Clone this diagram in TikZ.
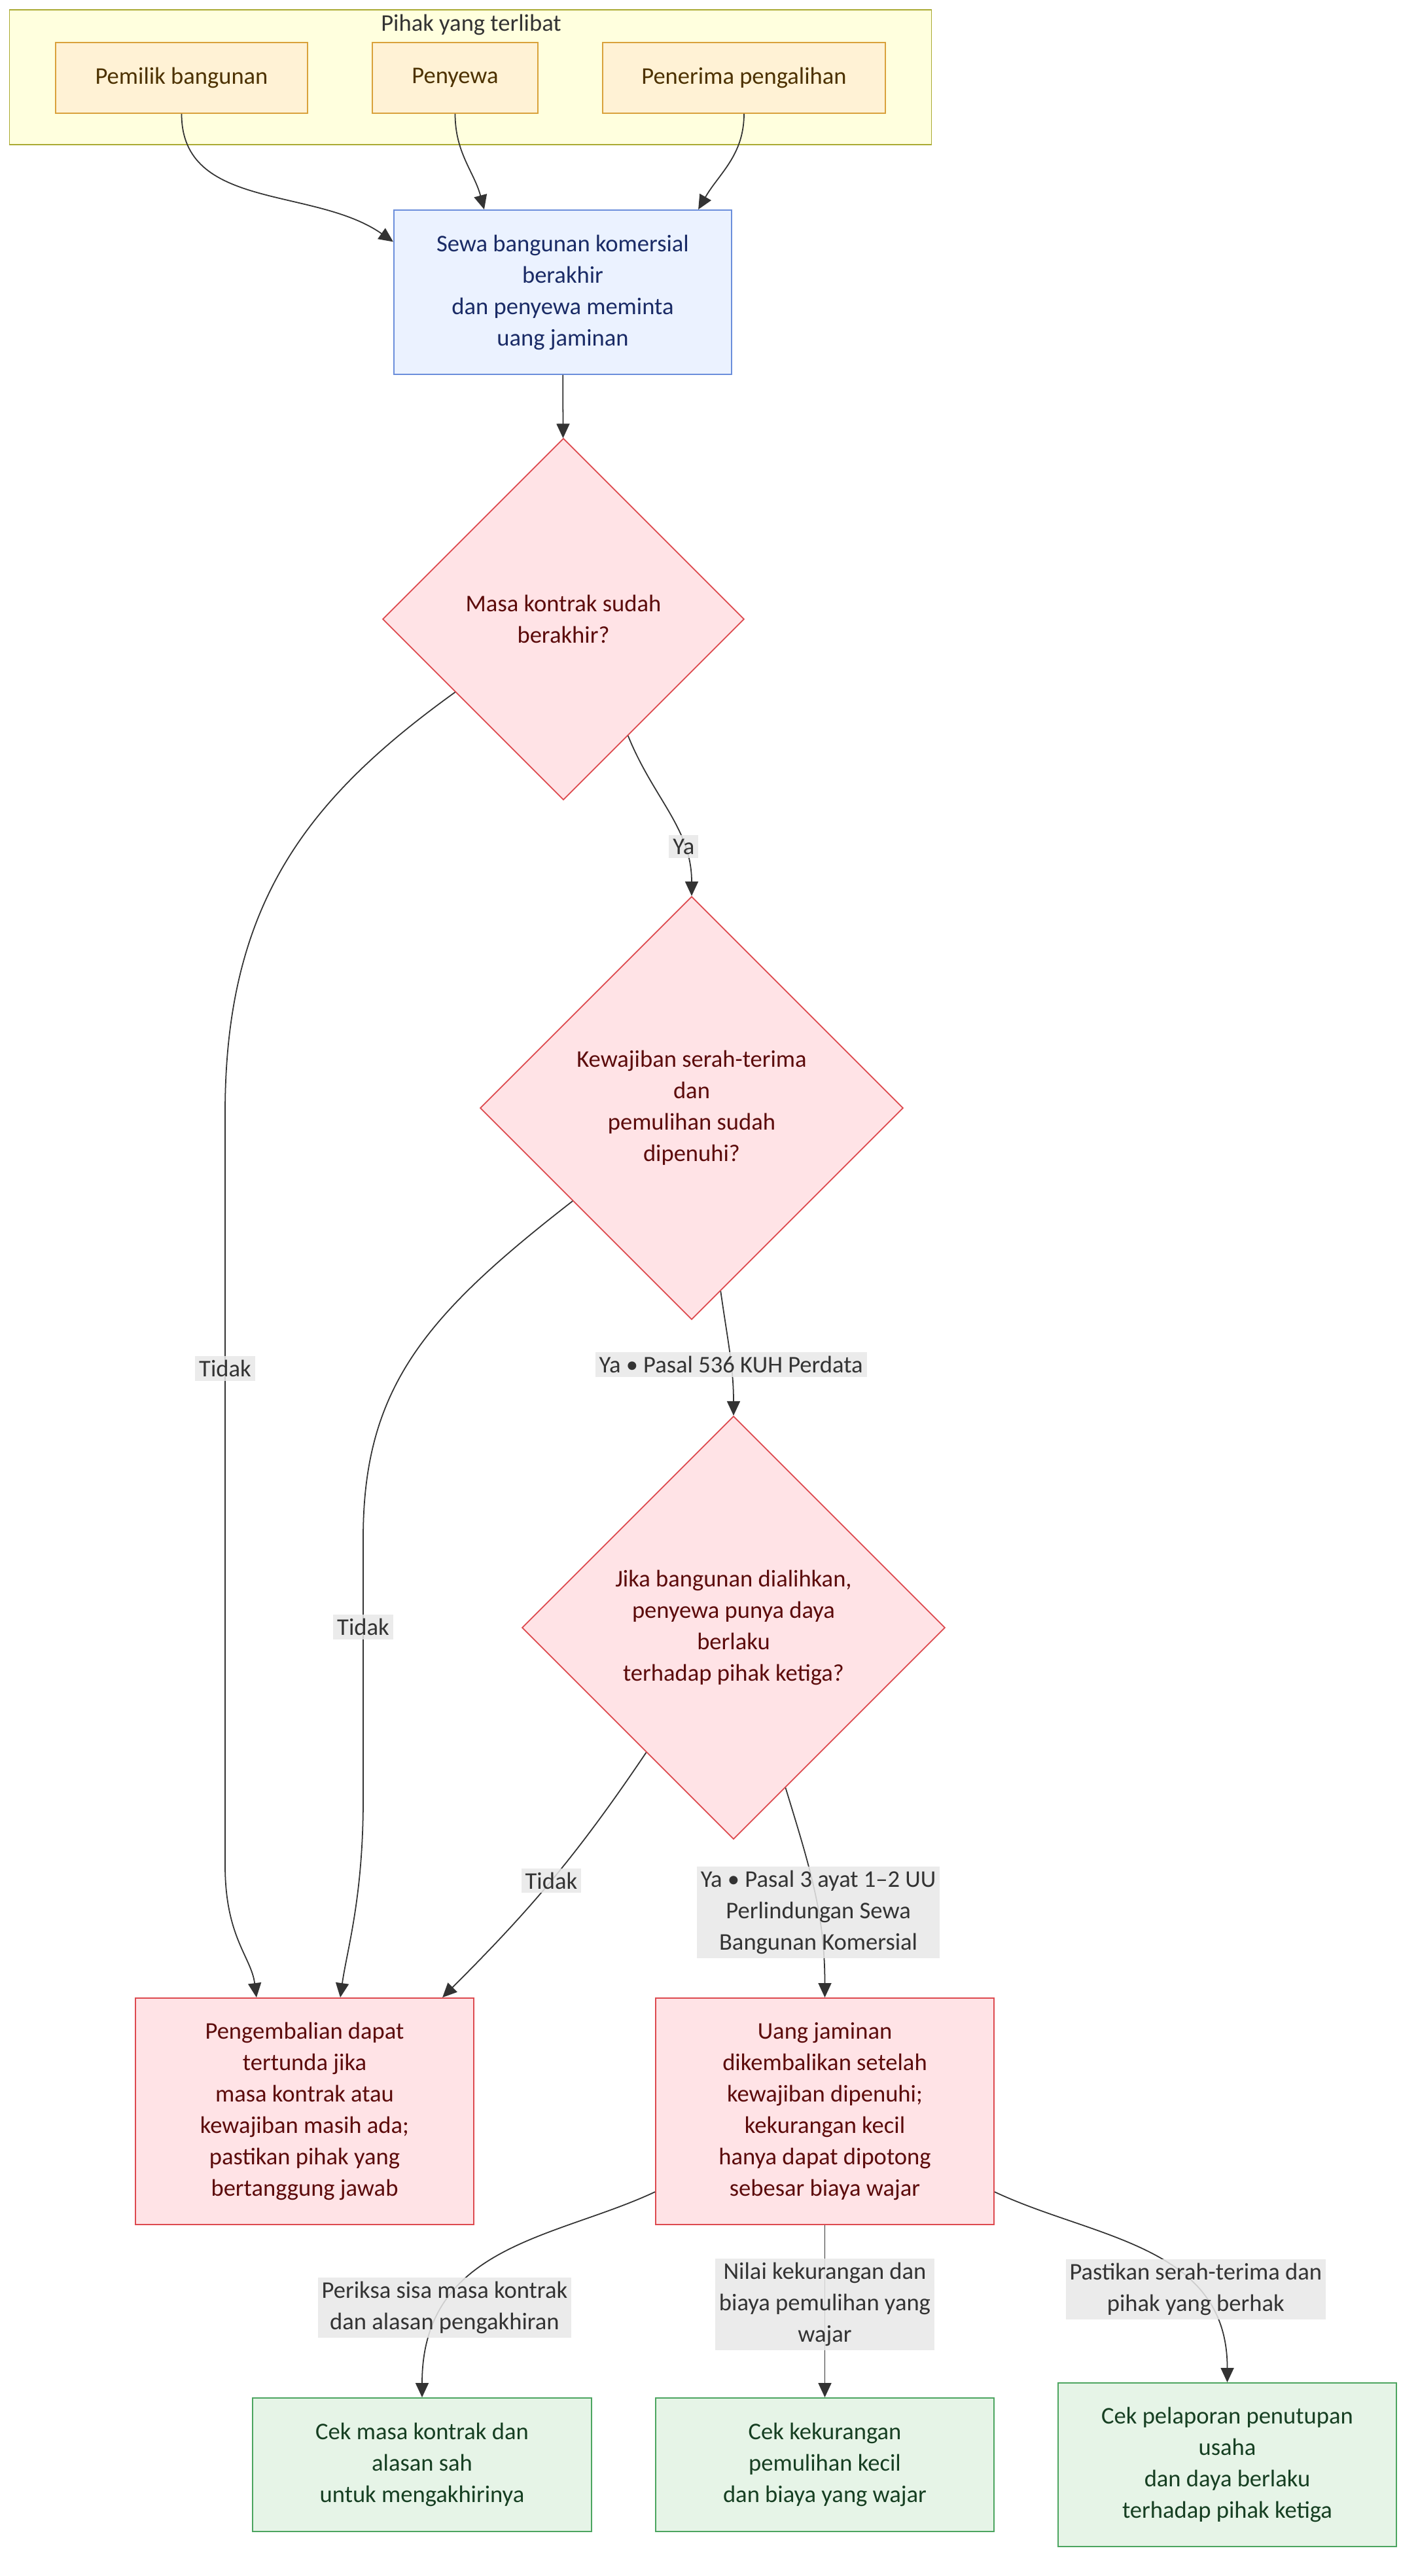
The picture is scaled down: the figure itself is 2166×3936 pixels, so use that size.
\documentclass[tikz,border=0pt]{standalone}
\usepackage{fontspec}
\setmainfont{Carlito}
\usepackage{tikz}
\usetikzlibrary{arrows.meta,positioning,shapes.geometric}
\definecolor{grpfill}{HTML}{FFFFDE}
\definecolor{grpline}{HTML}{AAAA33}
\definecolor{pfill}{HTML}{FFF2D5}
\definecolor{pline}{HTML}{D9A13B}
\definecolor{ptext}{HTML}{4D3200}
\definecolor{sfill}{HTML}{EBF2FF}
\definecolor{sline}{HTML}{6B8EDB}
\definecolor{stext}{HTML}{1A2B66}
\definecolor{rfill}{HTML}{FFE3E6}
\definecolor{rline}{HTML}{DD4A4F}
\definecolor{rtext}{HTML}{5C0B0B}
\definecolor{gfill}{HTML}{E6F4E7}
\definecolor{gline}{HTML}{4CA560}
\definecolor{gtext}{HTML}{163F22}
\definecolor{lblfill}{HTML}{E8E8E8}
\definecolor{edge}{HTML}{333333}
\tikzset{%
  box/.style={draw,align=center,inner sep=0pt,line width=0.5pt},
  arrow/.style={-{Triangle[length=2.2mm,width=2mm]},line width=0.5pt,draw=edge},
  lbl/.style={fill=lblfill,fill opacity=0.85,text opacity=1,text=edge,align=center,inner xsep=0.6mm,inner ysep=0.6mm}
}

\begin{document}
\begin{tikzpicture}[
    x=0.01cm, y=-0.01cm,
    font=\fontsize{10.4}{13.66}\selectfont,
    party/.style={box,fill=pfill,draw=pline,text=ptext,minimum height=1.08cm},
    start/.style={box,fill=sfill,draw=sline,text=stext,minimum width=5.16cm,minimum height=2.51cm},
    ask/.style={diamond,aspect=1,box,fill=rfill,draw=rline,text=rtext},
    late/.style={box,fill=rfill,draw=rline,text=rtext,minimum width=5.17cm,minimum height=3.46cm},
    check/.style={box,fill=gfill,draw=gline,text=gtext,minimum width=5.17cm,minimum height=2.04cm}
]
\useasboundingbox[fill=white] (0,0) rectangle (2166,3936);

% Group of parties
\node[draw=grpline,fill=grpfill,line width=0.5pt,minimum width=14.08cm,minimum height=2.06cm,inner sep=0pt] (grp) at (719,118) {};
\node[text=edge] (ttl) at (720,38) {Pihak yang terlibat};
\node[party,minimum width=3.85cm] (own) at (277.5,119) {Pemilik bangunan};
\node[party,minimum width=2.53cm] (ten) at (695.5,119) {Penyewa};
\node[party,minimum width=4.32cm] (rec) at (1137,119) {Penerima pengalihan};

% Main flow
\node[start] (lease) at (860,446.5) {Sewa bangunan komersial\\berakhir\\dan penyewa meminta\\uang jaminan};
\node[ask,minimum width=5.52cm,minimum height=5.52cm] (q1) at (861,946) {Masa kontrak sudah\\berakhir?};
\node[ask,minimum width=6.46cm,minimum height=6.46cm] (q2) at (1057,1693) {Kewajiban serah-terima\\dan\\pemulihan sudah\\dipenuhi?};
\node[ask,minimum width=6.46cm,minimum height=6.46cm] (q3) at (1121,2487) {Jika bangunan dialihkan,\\penyewa punya daya\\berlaku\\terhadap pihak ketiga?};

% Outcomes
\node[late] (hold) at (465.5,3226) {Pengembalian dapat\\tertunda jika\\masa kontrak atau\\kewajiban masih ada;\\pastikan pihak yang\\bertanggung jawab};
\node[late] (refund) at (1260.5,3226) {Uang jaminan\\dikembalikan setelah\\kewajiban dipenuhi;\\kekurangan kecil\\hanya dapat dipotong\\sebesar biaya wajar};

% Checks
\node[check] (chk1) at (645,3766) {Cek masa kontrak dan\\alasan sah\\untuk mengakhirinya};
\node[check] (chk2) at (1260.5,3766) {Cek kekurangan\\pemulihan kecil\\dan biaya yang wajar};
\node[check,minimum height=2.5cm] (chk3) at (1875.5,3766) {Cek pelaporan penutupan\\usaha\\dan daya berlaku\\terhadap pihak ketiga};

% Arrows
\draw[arrow] (own.south) to[out=-90,in=145] ([yshift=0.77cm]lease.west);
\draw[arrow] (ten.south) to[out=-90,in=105] ([xshift=-1.2cm]lease.north);
\draw[arrow] (rec.south) to[out=-90,in=60] ([xshift=2.07cm]lease.north);
\draw[arrow] (lease) -- (q1);
\draw[arrow] (q1.-61) to[out=-68,in=90] node[lbl,pos=0.72] {Ya} (q2.north);
\draw[arrow] (q2.-81) to[out=-82,in=90] node[lbl,pos=0.6] {Ya • Pasal 536 KUH Perdata} (q3.north);
\draw[arrow] (q3.-72) to[out=-73,in=90] node[lbl,pos=0.61] {Ya • Pasal 3 ayat 1–2 UU\\Perlindungan Sewa\\Bangunan Komersial} (refund.north);
\draw[arrow] (q1.214) .. controls (470,1220) and (344,1380) .. (344,1700)
    -- node[lbl,pos=0.34] {Tidak} (344,2850)
    .. controls (344,2960) and (384,2990) .. ([xshift=-0.735cm]hold.north);
\draw[arrow] (q2.218) .. controls (650,2010) and (555,2120) .. (555,2350)
    -- node[lbl,pos=0.34] {Tidak} (555,2750)
    .. controls (555,2900) and (530,2980) .. ([xshift=0.545cm]hold.north);
\draw[arrow] (q3.235) to[out=-124,in=45] node[lbl,pos=0.5] {Tidak} ([xshift=2.105cm]hold.north);
\draw[arrow] ([yshift=-1.23cm]refund.west) .. controls (850,3420) and (645,3430) .. node[lbl,pos=0.75] {Periksa sisa masa kontrak\\dan alasan pengakhiran} (chk1.north);
\draw[arrow] (refund.south) -- node[lbl,pos=0.46] {Nilai kekurangan dan\\biaya pemulihan yang\\wajar} (chk2.north);
\draw[arrow] ([yshift=-1.23cm]refund.east) .. controls (1670,3420) and (1876,3430) .. node[lbl,pos=0.7] {Pastikan serah-terima dan\\pihak yang berhak} (chk3.north);

\end{tikzpicture}
\end{document}
